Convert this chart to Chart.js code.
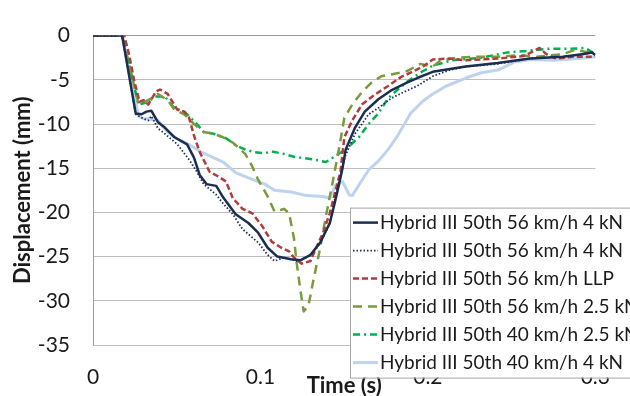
<!DOCTYPE html>
<html>
<head>
<meta charset="utf-8">
<script src="https://cdn.jsdelivr.net/npm/chart.js@4.4.1/dist/chart.umd.min.js"></script>
<style>
    html, body { margin: 0; padding: 0; background: #fff; }
    #wrap { width: 630px; height: 396px; }
</style>
</head>
<body>
<div id="wrap"><canvas id="dispChart"></canvas></div>
<script>
// Tick values
const xTickValues = [0, 0.1, 0.2, 0.3];
const yTickValues = [0, -5, -10, -15, -20, -25, -30, -35];

const seriesNames = [
    "Hybrid III 50th 56 km/h 4 kN",
    "Hybrid III 50th 56 km/h 4 kN",
    "Hybrid III 50th 56 km/h LLP",
    "Hybrid III 50th 56 km/h 2.5 kN",
    "Hybrid III 50th 40 km/h 2.5 kN",
    "Hybrid III 50th 40 km/h 4 kN"
];

// time (s) / displacement (mm)
const s1Time = [0, .0174, .0255, .0290, .0319, .0348, .0388, .0429, .0487, .0562, .0603, .0638, .0678, .0736, .0777, .0852, .0928, .0986, .1043, .1101, .1183, .1241, .1299, .1357, .1414, .1443, .1472, .1490, .1509, .1565, .1623, .1704, .1780, .1878, .1936, .2029, .2226, .2417, .2609, .2806, .2922, .2980, .3];
const s1Disp = [0, 0, -8.8, -8.9, -8.6, -8.5, -9.8, -10.4, -11.5, -12.3, -13.8, -15.8, -16.8, -17.0, -18.3, -20.2, -21.2, -22.3, -24.0, -25.0, -25.3, -25.4, -24.8, -23.4, -21.2, -19.0, -16.6, -15.0, -12.9, -10.4, -8.6, -7.2, -6.2, -5.3, -4.8, -4.1, -3.5, -3.1, -2.6, -2.4, -2.1, -1.9, -2.2];

const s2Time = [0, .0174, .0255, .0301, .0330, .0348, .0388, .0429, .0504, .0580, .0620, .0661, .0736, .0777, .0835, .0893, .0986, .1043, .1084, .1142, .1217, .1299, .1357, .1414, .1449, .1507, .1565, .1646, .1704, .1780, .1855, .1936, .2029, .2128, .2226, .2417, .2609, .2806, .2922, .2980, .3];
const s2Disp = [0, 0, -8.9, -9.4, -9.6, -9.1, -10.5, -11.1, -12.3, -14.2, -15.4, -16.8, -18.0, -19.0, -20.2, -21.9, -23.4, -24.8, -25.5, -25.1, -25.5, -24.9, -23.5, -21.3, -18.0, -13.6, -11.1, -8.9, -8.2, -7.1, -6.4, -5.7, -4.6, -3.9, -3.5, -3.2, -2.6, -2.4, -2.1, -1.9, -2.2];

const s3Time = [0, .0186, .0214, .0245, .0278, .0301, .0330, .0377, .0400, .0446, .0504, .0545, .0574, .0603, .0638, .0696, .0754, .0794, .0835, .0893, .0951, .1009, .1067, .1125, .1171, .1200, .1246, .1299, .1333, .1374, .1414, .1449, .1478, .1501, .1548, .1606, .1681, .1762, .1838, .1896, .1971, .2029, .2128, .2226, .2319, .2417, .2574, .2667, .2707, .2765, .2864, .3];
const s3Disp = [0, 0, -2.0, -5.0, -7.5, -7.3, -7.8, -6.3, -6.1, -6.6, -8.4, -8.6, -9.3, -11.3, -13.2, -15.4, -16.0, -16.5, -18.4, -19.6, -20.1, -21.5, -23.3, -24.0, -24.4, -25.1, -25.8, -25.5, -24.0, -22.3, -20.1, -17.5, -15.4, -11.5, -9.6, -7.8, -6.7, -5.7, -4.7, -4.2, -3.5, -2.7, -2.6, -2.8, -2.7, -2.6, -2.3, -1.4, -2.1, -2.6, -2.4, -2.4];

const s4Time = [0, .0174, .0272, .0313, .0348, .0388, .0446, .0487, .0545, .0603, .0661, .0719, .0777, .0835, .0910, .0951, .0986, .1043, .1084, .1125, .1142, .1171, .1200, .1217, .1241, .1258, .1287, .1316, .1357, .1391, .1432, .1472, .1501, .1548, .1606, .1664, .1722, .1780, .1878, .1954, .2029, .2070, .2168, .2284, .2417, .2551, .2649, .2806, .2881, .2957, .3];
const s4Disp = [0, 0, -7.7, -7.5, -7.1, -6.6, -7.3, -8.4, -8.9, -10.0, -10.9, -11.1, -11.5, -12.1, -13.4, -14.8, -16.3, -18.2, -19.9, -19.7, -19.6, -20.1, -22.9, -25.8, -29.1, -31.2, -30.5, -27.7, -24.0, -20.4, -16.5, -12.5, -9.3, -7.8, -6.4, -5.3, -4.6, -4.4, -4.0, -3.2, -3.5, -2.9, -2.5, -2.4, -2.4, -2.2, -2.4, -2.1, -1.6, -1.9, -2.1];

const s5Time = [0, .0174, .0272, .0330, .0371, .0429, .0487, .0545, .0620, .0661, .0719, .0794, .0852, .0910, .0968, .1026, .1067, .1142, .1200, .1316, .1391, .1432, .1507, .1588, .1646, .1704, .1762, .1820, .1878, .1954, .2029, .2145, .2319, .2475, .2609, .2707, .2841, .2939, .3];
const s5Disp = [0, 0, -7.8, -7.5, -6.9, -6.9, -8.2, -8.6, -10.0, -10.9, -11.1, -11.6, -12.4, -12.9, -13.2, -13.3, -13.1, -13.4, -13.7, -14.0, -14.3, -13.8, -12.9, -11.5, -10.0, -8.8, -7.1, -6.1, -5.2, -4.2, -3.4, -2.8, -2.5, -1.9, -1.7, -1.5, -1.5, -1.4, -2.1];

const s6Time = [0, .0174, .0272, .0301, .0330, .0388, .0446, .0504, .0580, .0661, .0777, .0852, .0928, .1026, .1084, .1183, .1275, .1374, .1414, .1449, .1490, .1530, .1548, .1588, .1646, .1704, .1762, .1820, .1896, .1971, .2029, .2110, .2226, .2319, .2417, .2516, .2609, .2748, .2899, .3];
const s6Disp = [0, 0, -9.1, -9.4, -9.4, -9.6, -10.9, -11.7, -12.4, -13.3, -14.3, -15.5, -16.1, -16.8, -17.5, -17.7, -18.1, -18.2, -18.4, -16.9, -16.5, -18.0, -18.1, -16.9, -15.2, -14.2, -12.9, -11.3, -8.8, -7.4, -6.6, -5.7, -4.8, -4.2, -3.9, -3.0, -2.7, -2.8, -2.6, -2.4];

const FONT = "Lato";

const toPoints = (t, d) => t.map((x, i) => ({ x: x, y: d[i] }));

// legend drawn as a bordered box over the plot, like the original
const boxLegend = {
    id: "boxLegend",
    afterDraw(chart) {
        const { ctx, chartArea } = chart;
        const left = chartArea.left + 257;
        const top = chartArea.top + 172;
        const rowH = 28;
        ctx.save();
        ctx.fillStyle = "#ffffff";
        ctx.fillRect(left, top, 400, rowH * 6 + 2);
        ctx.strokeStyle = "#a6a6a6";
        ctx.lineWidth = 1;
        ctx.strokeRect(left + 0.5, top + 0.5, 400, rowH * 6 + 2);
        ctx.font = "19px " + FONT;
        ctx.textBaseline = "middle";
        chart.data.datasets.forEach((ds, i) => {
            const y = top + 15 + i * rowH;
            ctx.beginPath();
            ctx.setLineDash(ds.borderDash || []);
            ctx.strokeStyle = ds.borderColor;
            ctx.lineWidth = ds.borderWidth;
            ctx.moveTo(left + 3, y);
            ctx.lineTo(left + 28, y);
            ctx.stroke();
            ctx.setLineDash([]);
            ctx.fillStyle = "#1a1a1a";
            ctx.fillText(ds.label, left + 30, y);
        });
        ctx.restore();
    }
};

const ctx = document.getElementById("dispChart");
new Chart(ctx, {
    type: "line",
    data: {
        datasets: [
            { label: seriesNames[0], data: toPoints(s1Time, s1Disp), borderColor: "#1c2e50", borderWidth: 2.5 },
            { label: seriesNames[1], data: toPoints(s2Time, s2Disp), borderColor: "#1c2e50", borderWidth: 1.8, borderDash: [1.5, 2] },
            { label: seriesNames[2], data: toPoints(s3Time, s3Disp), borderColor: "#b03c3c", borderWidth: 2.5, borderDash: [6, 3] },
            { label: seriesNames[3], data: toPoints(s4Time, s4Disp), borderColor: "#7a9a3c", borderWidth: 2.5, borderDash: [9, 6] },
            { label: seriesNames[4], data: toPoints(s5Time, s5Disp), borderColor: "#00b050", borderWidth: 2.5, borderDash: [7, 4, 2, 4] },
            { label: seriesNames[5], data: toPoints(s6Time, s6Disp), borderColor: "#bdd3ee", borderWidth: 3 }
        ]
    },
    options: {
        responsive: true,
        maintainAspectRatio: false,
        animation: false,
        elements: {
            point: { radius: 0 },
            line: { tension: 0, fill: false, borderJoinStyle: "round" }
        },
        layout: { padding: { top: 21, right: 19, left: 0, bottom: 0 } },
        plugins: {
            legend: { display: false },
            tooltip: { enabled: false }
        },
        scales: {
            x: {
                type: "linear",
                min: 0,
                max: 0.3,
                afterBuildTicks: (axis) => { axis.ticks = xTickValues.map(v => ({ value: v })); },
                afterFit: (axis) => { axis.height = 51; },
                grid: { display: false, drawTicks: false },
                border: { display: false },
                ticks: {
                    padding: 20,
                    color: "#1a1a1a",
                    font: { family: FONT, size: 21 },
                    callback: (v) => String(v)
                },
                title: {
                    display: true,
                    text: "Time (s)",
                    color: "#1a1a1a",
                    font: { family: FONT, size: 22, weight: "bold" },
                    padding: { top: 0, bottom: -3 }
                }
            },
            y: {
                min: -35,
                max: 0,
                afterBuildTicks: (axis) => { axis.ticks = yTickValues.map(v => ({ value: v })); },
                afterFit: (axis) => { axis.width = 93; },
                grid: {
                    drawTicks: false,
                    color: (c) => (c.tick && c.tick.value === 0 ? "#9a9a9a" : "#bfbfbf")
                },
                border: { display: true, color: "#9a9a9a" },
                ticks: {
                    padding: 23,
                    color: "#1a1a1a",
                    font: { family: FONT, size: 21 },
                    callback: (v) => String(v)
                },
                title: {
                    display: true,
                    text: "Displacement (mm)",
                    color: "#1a1a1a",
                    font: { family: FONT, size: 22, weight: "bold" },
                    padding: { top: 10, bottom: 0 }
                }
            }
        }
    },
    plugins: [boxLegend]
});
</script>
</body>
</html>
